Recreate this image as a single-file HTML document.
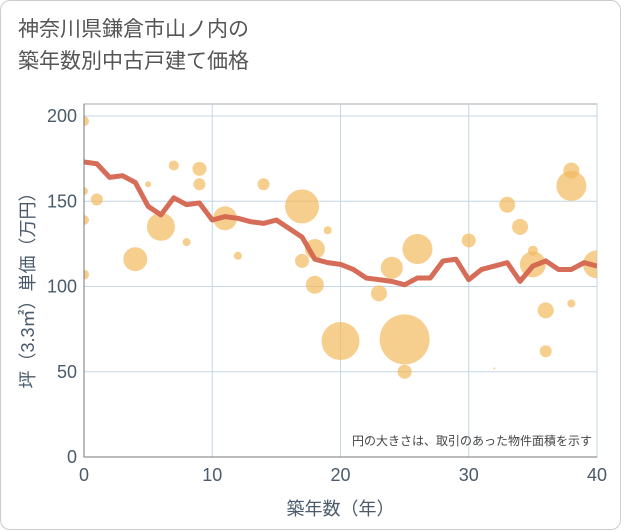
<!DOCTYPE html>
<html><head><meta charset="utf-8"><style>
body{margin:0;background:#fff;}
#wrap{position:relative;width:619px;height:528px;border:1px solid #ccc;border-radius:10px;overflow:hidden;font-family:"Liberation Sans","Noto Sans CJK JP",sans-serif;}
#title{position:absolute;left:17px;top:13px;font-size:21px;line-height:32px;color:#555;}
</style></head><body>
<div id="wrap">
<div id="title">神奈川県鎌倉市山ノ内の<br>築年数別中古戸建て価格</div>
<svg id="chart" width="621" height="530" style="position:absolute;left:0;top:0"></svg>
</div>
<script>
const years=[0,1,2,3,4,5,6,7,8,9,10,11,12,13,14,15,16,17,18,19,20,21,22,23,24,25,26,27,28,29,30,31,32,33,34,35,36,37,38,39,40];
const avgPrice=[173,172,164,165,161,147,142,152,148,149,139,141,140,138,137,139,134,129,116,114,113,110,105,104,103,101,105,105,115,116,104,110,112,114,103,112,115,110,110,114,112];
const bubbleX=[0,0,0,0,1,4,5,6,7,8,9,9,11,12,14,17,17,18,18,19,20,23,24,25,25,26,30,32,33,34,35,35,36,36,38,38,38,40];
const bubbleY=[197,156,139,107,151,116,160,135,171,126,169,160,140,118,160,147,115,122,101,133,68,96,111,69,50,122,127,52,148,135,121,113,86,62,168,159,90,113];
const bubbleR=[5,4,5,5,6,12,3,14,5,4,7,6,12,4,6,17,7,10,9,4,19,8,11,25,7,15,7,1,8,8,5,13,8,6,8,15,4,14];
const xTicks=[0,10,20,30,40];
const yTicks=[0,50,100,150,200];
const NS="http://www.w3.org/2000/svg";
const svg=document.getElementById('chart');
const L=83,R=596,T=103,B=456;
const xs=v=>L+(R-L)*v/40;
const ys=v=>B-(B-115)*v/200;
function mk(t,a,p){const e=document.createElementNS(NS,t);for(const k in a)e.setAttribute(k,a[k]);(p||svg).appendChild(e);return e;}
const defs=mk('defs',{});
const cp=mk('clipPath',{id:'plotclip'},defs);
mk('rect',{x:L,y:T,width:R-L,height:B-T},cp);
mk('rect',{x:L,y:T,width:R-L,height:B-T,fill:'#fff',stroke:'#aaa','stroke-width':1});
for(const t of xTicks){
 const g=mk('line',{x1:xs(t),x2:xs(t),y1:T,y2:B,stroke:'#c5d6e4','stroke-width':1});
 
 const tx=mk('text',{x:xs(t),y:B+24,'text-anchor':'middle','font-size':18,fill:'#4a5a6a'});tx.textContent=t;
 
}
for(const t of yTicks){
 const g=mk('line',{x1:L,x2:R,y1:ys(t),y2:ys(t),stroke:'#c5d6e4','stroke-width':1});
 
 const tx=mk('text',{x:L-7,y:ys(t)+6,'text-anchor':'end','font-size':18,fill:'#4a5a6a'});tx.textContent=t;
 
}
const plotG=mk('g',{'clip-path':'url(#plotclip)'});
for(let i=0;i<bubbleX.length;i++){
 const c=mk('circle',{cx:xs(bubbleX[i]),cy:ys(bubbleY[i]),r:bubbleR[i],fill:'#f2b95e','fill-opacity':0.7},plotG);
 
 
}
const pl=mk('polyline',{points:years.map((y,i)=>xs(y)+','+ys(avgPrice[i])).join(' '),fill:'none',stroke:'#d4654f','stroke-width':5,'stroke-linejoin':'round','stroke-opacity':0.95},plotG);


mk('line',{x1:L,x2:L,y1:T,y2:B,stroke:'#777','stroke-width':1});
mk('line',{x1:L,x2:R,y1:B,y2:B,stroke:'#777','stroke-width':1});
const note=mk('text',{x:591,y:444,'text-anchor':'end','font-size':12,fill:'#444'});note.textContent='円の大きさは、取引のあった物件面積を示す';

const xt=mk('text',{x:(L+R)/2,y:514,'text-anchor':'middle','font-size':18,fill:'#4a5a6a'});xt.textContent='築年数（年）';

const yt=mk('text',{x:0,y:0,'text-anchor':'middle','font-size':18,fill:'#4a5a6a',transform:'translate(33,285) rotate(-90)'});yt.textContent='坪（3.3㎡）単価（万円）';

</script>
</body></html>
